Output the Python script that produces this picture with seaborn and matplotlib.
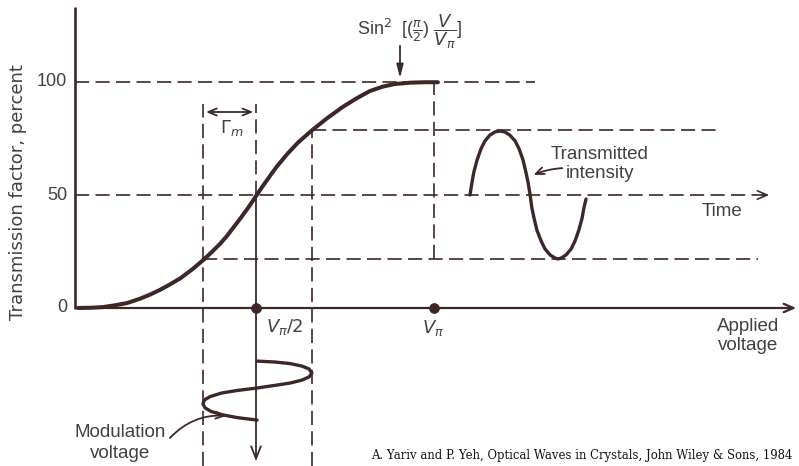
import numpy as np
import pandas as pd
import matplotlib
matplotlib.use("Agg")
import matplotlib.pyplot as plt
import seaborn as sns

# transfer curve (V in units of V_pi, T in percent)
v_curve = [0.000, 0.034, 0.070, 0.104, 0.138, 0.174, 0.202, 0.230, 0.258, 0.287, 0.320,
           0.351, 0.376, 0.399, 0.419, 0.435, 0.455, 0.475, 0.489, 0.503, 0.517, 0.531,
           0.545, 0.559, 0.587, 0.618, 0.657, 0.699, 0.744, 0.784, 0.820, 0.857, 0.890,
           0.933, 0.975, 1.011]
t_curve = [0.0, 0.1, 0.4, 1.2, 2.2, 4.1, 5.9, 8.0, 10.4, 13.1, 17.0,
           21.1, 24.8, 28.4, 32.0, 35.3, 39.4, 43.7, 46.9, 50.2, 53.5, 56.6,
           59.7, 62.7, 68.0, 73.2, 78.6, 83.9, 89.0, 92.9, 96.0, 98.0, 99.1,
           99.7, 99.9, 99.9]

# transmitted intensity vs time (time drawn along the same horizontal scale)
time_out = [1.101, 1.107, 1.112, 1.121, 1.132, 1.143, 1.157, 1.171, 1.185, 1.199, 1.213,
            1.228, 1.239, 1.250, 1.258, 1.264, 1.270, 1.275, 1.281, 1.289, 1.301, 1.312,
            1.326, 1.340, 1.348, 1.357, 1.371, 1.385, 1.396, 1.407, 1.416, 1.421, 1.427]
intensity = [50.0, 55.8, 60.2, 65.5, 70.4, 73.9, 76.5, 77.9, 78.3, 77.9, 76.5,
             73.9, 70.4, 65.5, 60.2, 55.8, 50.0, 44.2, 39.8, 34.5, 29.6, 26.1,
             23.5, 22.1, 21.7, 22.1, 23.5, 26.1, 29.6, 34.5, 39.8, 44.2, 48.2]

# modulation voltage vs time (time runs downward below the axis)
mod_voltage = [0.503, 0.553, 0.596, 0.629, 0.649, 0.657, 0.649, 0.629, 0.596, 0.559, 0.503,
               0.447, 0.404, 0.371, 0.355, 0.351, 0.357, 0.374, 0.407, 0.447, 0.503]
mod_time = [-23.5, -23.9, -24.6, -25.7, -27.0, -28.8, -30.5, -31.9, -33.2, -34.1, -35.4,
            -36.5, -37.6, -39.2, -40.7, -42.5, -44.2, -45.8, -47.3, -48.5, -49.6]

# guide levels
t_max, t_mid = 100, 50
t_hi, t_lo = 78.8, 21.5
v_lo, v_bias, v_hi, v_pi = 0.352, 0.5, 0.657, 1.0
marker_v = [v_bias, v_pi]
marker_t = [0, 0]
y_ticks = [0, 50, 100]


def vx(px):
    return (px - 78) / 356


def ty(py):
    return (308 - py) / 2.26


sns.set_style("white")
plt.rcParams['font.family'] = ['Liberation Sans', 'DejaVu Sans']
ink = '#3d2727'
txt = '#444040'

fig, ax = plt.subplots(figsize=(7.99, 4.66), dpi=100)
fig.subplots_adjust(left=0, right=1, bottom=0, top=1)
ax.set_xlim(vx(0), vx(799))
ax.set_ylim(ty(466), ty(0))
ax.axis('off')

dash = dict(color=ink, lw=1.2, linestyle=(0, (8.5, 3.8)))
smooth = dict(solid_joinstyle='round', solid_capstyle='round')

# axes
ax.plot([vx(75), vx(75)], [0, ty(8)], color=ink, lw=1.9)
ax.annotate('', xy=(vx(799), 0), xytext=(vx(75), 0),
            arrowprops=dict(arrowstyle='->,head_length=0.7,head_width=0.3', color=ink, lw=1.6))

# dashed guides
ax.hlines(t_max, vx(75), vx(535), **dash)
ax.hlines(t_hi, v_hi, vx(720), **dash)
ax.hlines(t_lo, v_lo, vx(758), **dash)
ax.hlines(t_mid, vx(75), vx(764), **dash)
ax.annotate('', xy=(vx(772), t_mid), xytext=(vx(760), t_mid),
            arrowprops=dict(arrowstyle='->,head_length=0.7,head_width=0.3', color=ink, lw=1.2))
ax.vlines(v_lo, ty(466), ty(104), **dash)
ax.vlines(v_hi, ty(466), t_hi, **dash)
ax.vlines(v_pi, t_lo, t_max, **dash)
ax.vlines(v_bias, t_mid, ty(104), **dash)
ax.annotate('', xy=(v_bias, ty(464)), xytext=(v_bias, t_mid),
            arrowprops=dict(arrowstyle='->,head_length=0.9,head_width=0.35', color=ink, lw=1.3))

# Gamma_m bracket
ax.annotate('', xy=(v_lo, ty(112)), xytext=(v_bias, ty(112)),
            arrowprops=dict(arrowstyle='<->,head_length=0.6,head_width=0.25', color=ink, lw=1.3))

# curves
curve_df = pd.DataFrame({'V': v_curve, 'T': t_curve})
sns.lineplot(data=curve_df, x='V', y='T', sort=False, estimator=None, color=ink, lw=2.9, ax=ax, **smooth)
sns.lineplot(x=time_out, y=intensity, sort=False, estimator=None, color=ink, lw=2.4, ax=ax, **smooth)
sns.lineplot(x=mod_voltage, y=mod_time, sort=False, estimator=None, color=ink, lw=2.4, ax=ax, **smooth)
sns.scatterplot(x=marker_v, y=marker_t, s=50, color=ink, edgecolor=ink, zorder=5, ax=ax)

# tick labels and axis title
for t in y_ticks:
    ax.text(vx(67), t, str(t), ha='right', va='center', fontsize=13, color=txt)
ax.text(vx(18), ty(192), 'Transmission factor, percent', rotation=90,
        ha='center', va='center', fontsize=13, color=txt, family='DejaVu Sans')

ax.text(vx(357), ty(32), r'Sin$^2$  [($\frac{\pi}{2}$) $\dfrac{V}{V_\pi}$]',
        ha='left', va='center', fontsize=13, color=txt)
ax.annotate('', xy=(vx(400), ty(81)), xytext=(vx(400), ty(43)),
            arrowprops=dict(arrowstyle='-|>,head_length=0.8,head_width=0.2', color=ink, lw=1.3))

ax.text(vx(232), ty(128), r'$\Gamma_m$', ha='center', va='center', fontsize=13, color=txt)
ax.text(vx(285), ty(327), r'$V_\pi/2$', ha='center', va='center', fontsize=13, color=txt)
ax.text(vx(433), ty(328), r'$V_\pi$', ha='center', va='center', fontsize=13, color=txt)
ax.text(vx(748), ty(336), 'Applied\nvoltage', ha='center', va='center',
        fontsize=13.5, color=txt, linespacing=1.2)
ax.text(vx(722), ty(212), 'Time', ha='center', va='center', fontsize=13.5, color=txt)
ax.text(vx(600), ty(164), 'Transmitted\nintensity', ha='center', va='center',
        fontsize=13.5, color=txt, linespacing=1.15)
ax.annotate('', xy=(vx(531), ty(176)), xytext=(vx(565), ty(168)),
            arrowprops=dict(arrowstyle='->,head_length=0.6,head_width=0.25', color=ink, lw=1.3,
                            connectionstyle='arc3,rad=0.1'))
ax.text(vx(120), ty(443), 'Modulation\nvoltage', ha='center', va='center',
        fontsize=13.5, color=txt, linespacing=1.25)
ax.annotate('', xy=(vx(229), ty(416)), xytext=(vx(168), ty(440)),
            arrowprops=dict(arrowstyle='->,head_length=0.6,head_width=0.25', color=ink, lw=1.3,
                            connectionstyle='arc3,rad=-0.25'))

ax.text(vx(371), ty(456), 'A. Yariv and P. Yeh, Optical Waves in Crystals, John Wiley & Sons, 1984',
        ha='left', va='center', fontsize=8.4, color='#111111', family='DejaVu Serif')

fig.savefig('out.png', dpi=100)
